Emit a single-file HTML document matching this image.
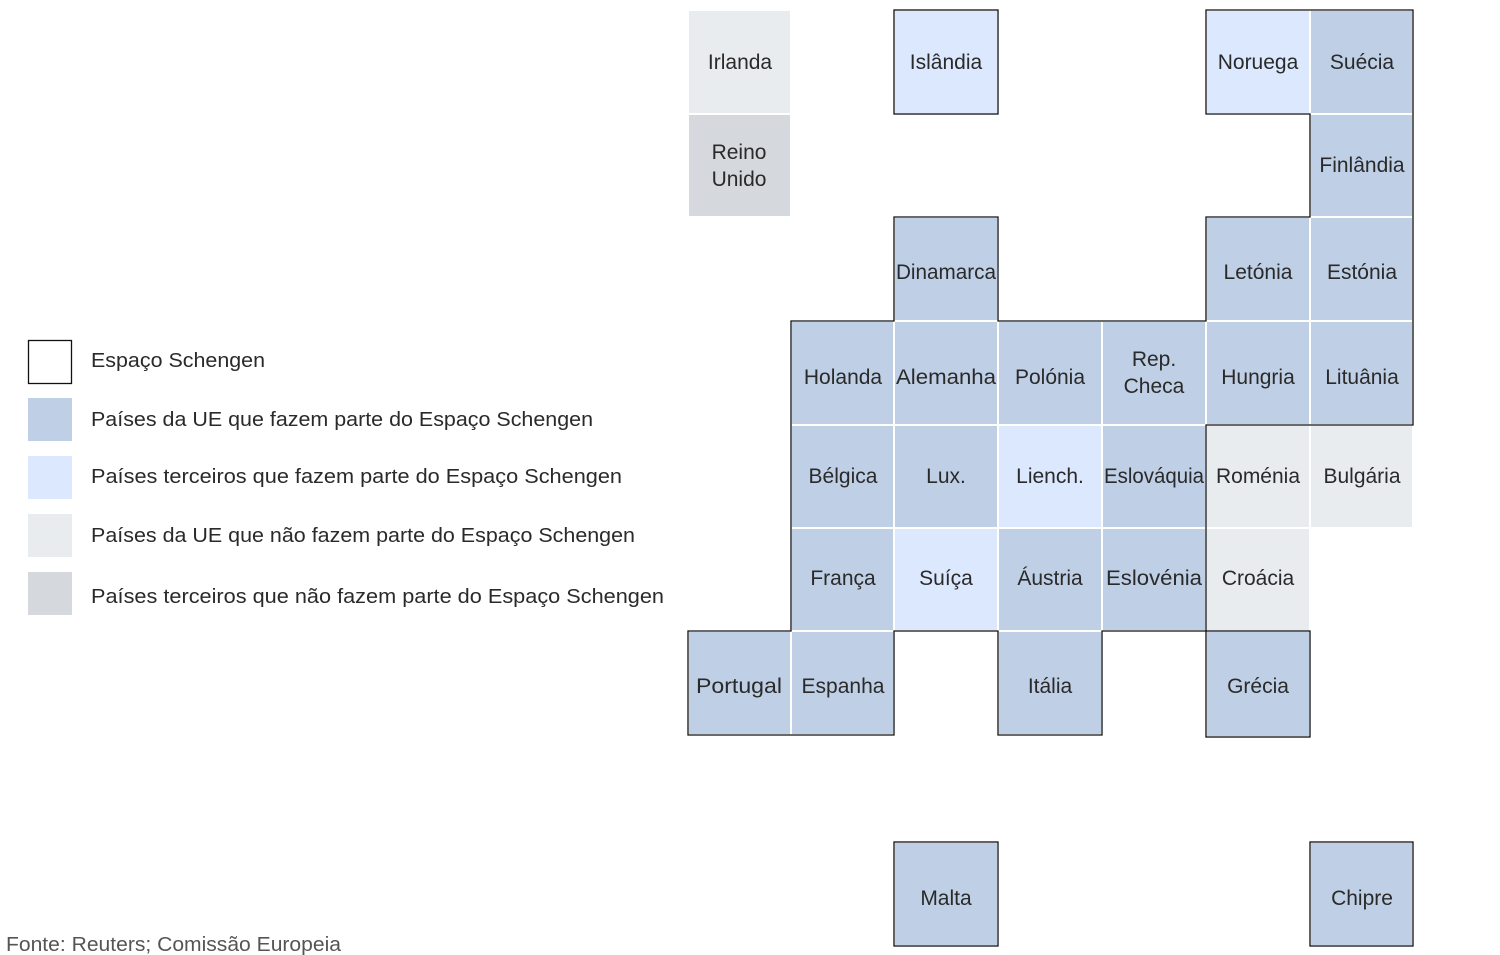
<!DOCTYPE html>
<html><head><meta charset="utf-8"><style>
html,body{margin:0;padding:0;background:#fff;}
svg{display:block;}
text{font-family:"Liberation Sans",sans-serif;fill:#2a2a2a;}
</style></head><body>
<svg width="1500" height="955" viewBox="0 0 1500 955" xmlns="http://www.w3.org/2000/svg">
<g stroke="#fff" stroke-width="2">
<rect x="688" y="10" width="103" height="104" fill="#e8ecef"/>
<rect x="894" y="10" width="104" height="104" fill="#dce8fd"/>
<rect x="1206" y="10" width="104" height="104" fill="#dce8fd"/>
<rect x="1310" y="10" width="103" height="104" fill="#bfcfe6"/>
<rect x="688" y="114" width="103" height="103" fill="#d5d9dd"/>
<rect x="1310" y="114" width="103" height="103" fill="#bfcfe6"/>
<rect x="894" y="217" width="104" height="104" fill="#bfcfe6"/>
<rect x="1206" y="217" width="104" height="104" fill="#bfcfe6"/>
<rect x="1310" y="217" width="103" height="104" fill="#bfcfe6"/>
<rect x="791" y="321" width="103" height="104" fill="#bfcfe6"/>
<rect x="894" y="321" width="104" height="104" fill="#bfcfe6"/>
<rect x="998" y="321" width="104" height="104" fill="#bfcfe6"/>
<rect x="1102" y="321" width="104" height="104" fill="#bfcfe6"/>
<rect x="1206" y="321" width="104" height="104" fill="#bfcfe6"/>
<rect x="1310" y="321" width="103" height="104" fill="#bfcfe6"/>
<rect x="791" y="425" width="103" height="103" fill="#bfcfe6"/>
<rect x="894" y="425" width="104" height="103" fill="#bfcfe6"/>
<rect x="998" y="425" width="104" height="103" fill="#dce8fd"/>
<rect x="1102" y="425" width="104" height="103" fill="#bfcfe6"/>
<rect x="1206" y="425" width="104" height="103" fill="#e8ecef"/>
<rect x="1310" y="425" width="103" height="103" fill="#e8ecef"/>
<rect x="791" y="528" width="103" height="103" fill="#bfcfe6"/>
<rect x="894" y="528" width="104" height="103" fill="#dce8fd"/>
<rect x="998" y="528" width="104" height="103" fill="#bfcfe6"/>
<rect x="1102" y="528" width="104" height="103" fill="#bfcfe6"/>
<rect x="1206" y="528" width="104" height="103" fill="#e8ecef"/>
<rect x="688" y="631" width="103" height="104" fill="#bfcfe6"/>
<rect x="791" y="631" width="103" height="104" fill="#bfcfe6"/>
<rect x="998" y="631" width="104" height="104" fill="#bfcfe6"/>
<rect x="1206" y="631" width="104" height="106" fill="#bfcfe6"/>
<rect x="894" y="842" width="104" height="104" fill="#bfcfe6"/>
<rect x="1310" y="842" width="103" height="104" fill="#bfcfe6"/>
</g>
<g fill="none" stroke="#111" stroke-width="1.3">
<path d="M1206,10 L1413,10 L1413,425 L1206,425 L1206,631 L1102,631 L1102,735 L998,735 L998,631 L894,631 L894,735 L688,735 L688,631 L791,631 L791,321 L894,321 L894,217 L998,217 L998,321 L1206,321 L1206,217 L1310,217 L1310,114 L1206,114 Z"/>
<rect x="894" y="10" width="104" height="104"/>
<rect x="1206" y="631" width="104" height="106"/>
<rect x="894" y="842" width="104" height="104"/>
<rect x="1310" y="842" width="103" height="104"/>
</g>
<g font-size="21" text-anchor="middle">
<text x="740" y="69">Irlanda</text>
<text x="946" y="69">Islândia</text>
<text x="1258" y="69">Noruega</text>
<text x="1362" y="69">Suécia</text>
<text x="739" y="159">Reino</text>
<text x="739" y="186">Unido</text>
<text x="1362" y="172">Finlândia</text>
<text x="946" y="279" textLength="100" lengthAdjust="spacingAndGlyphs">Dinamarca</text>
<text x="1258" y="279">Letónia</text>
<text x="1362" y="279">Estónia</text>
<text x="843" y="384">Holanda</text>
<text x="946" y="384" textLength="100" lengthAdjust="spacingAndGlyphs">Alemanha</text>
<text x="1050" y="384">Polónia</text>
<text x="1154" y="366">Rep.</text>
<text x="1154" y="393">Checa</text>
<text x="1258" y="384">Hungria</text>
<text x="1362" y="384">Lituânia</text>
<text x="843" y="483">Bélgica</text>
<text x="946" y="483">Lux.</text>
<text x="1050" y="483">Liench.</text>
<text x="1154" y="483" textLength="100" lengthAdjust="spacingAndGlyphs">Eslováquia</text>
<text x="1258" y="483">Roménia</text>
<text x="1362" y="483">Bulgária</text>
<text x="843" y="585">França</text>
<text x="946" y="585">Suíça</text>
<text x="1050" y="585">Áustria</text>
<text x="1154" y="585" textLength="96" lengthAdjust="spacingAndGlyphs">Eslovénia</text>
<text x="1258" y="585">Croácia</text>
<text x="739" y="693" textLength="86" lengthAdjust="spacingAndGlyphs">Portugal</text>
<text x="843" y="693">Espanha</text>
<text x="1050" y="693">Itália</text>
<text x="1258" y="693">Grécia</text>
<text x="946" y="905">Malta</text>
<text x="1362" y="905">Chipre</text>
</g>
<rect x="28.5" y="340.5" width="43" height="43" fill="#fff" stroke="#111" stroke-width="1.3"/>
<rect x="28" y="398" width="44" height="43" fill="#bfcfe6"/>
<rect x="28" y="456" width="44" height="43" fill="#dce8fd"/>
<rect x="28" y="514" width="44" height="43" fill="#e8ecef"/>
<rect x="28" y="572" width="44" height="43" fill="#d5d9dd"/>
<g font-size="20">
<text x="91" y="367" textLength="174" lengthAdjust="spacingAndGlyphs">Espaço Schengen</text>
<text x="91" y="426" textLength="502" lengthAdjust="spacingAndGlyphs">Países da UE que fazem parte do Espaço Schengen</text>
<text x="91" y="483" textLength="531" lengthAdjust="spacingAndGlyphs">Países terceiros que fazem parte do Espaço Schengen</text>
<text x="91" y="542" textLength="544" lengthAdjust="spacingAndGlyphs">Países da UE que não fazem parte do Espaço Schengen</text>
<text x="91" y="603" textLength="573" lengthAdjust="spacingAndGlyphs">Países terceiros que não fazem parte do Espaço Schengen</text>
</g>
<text x="6" y="951" font-size="20" textLength="335" lengthAdjust="spacingAndGlyphs" style="fill:#555">Fonte: Reuters; Comissão Europeia</text>
</svg>
</body></html>
